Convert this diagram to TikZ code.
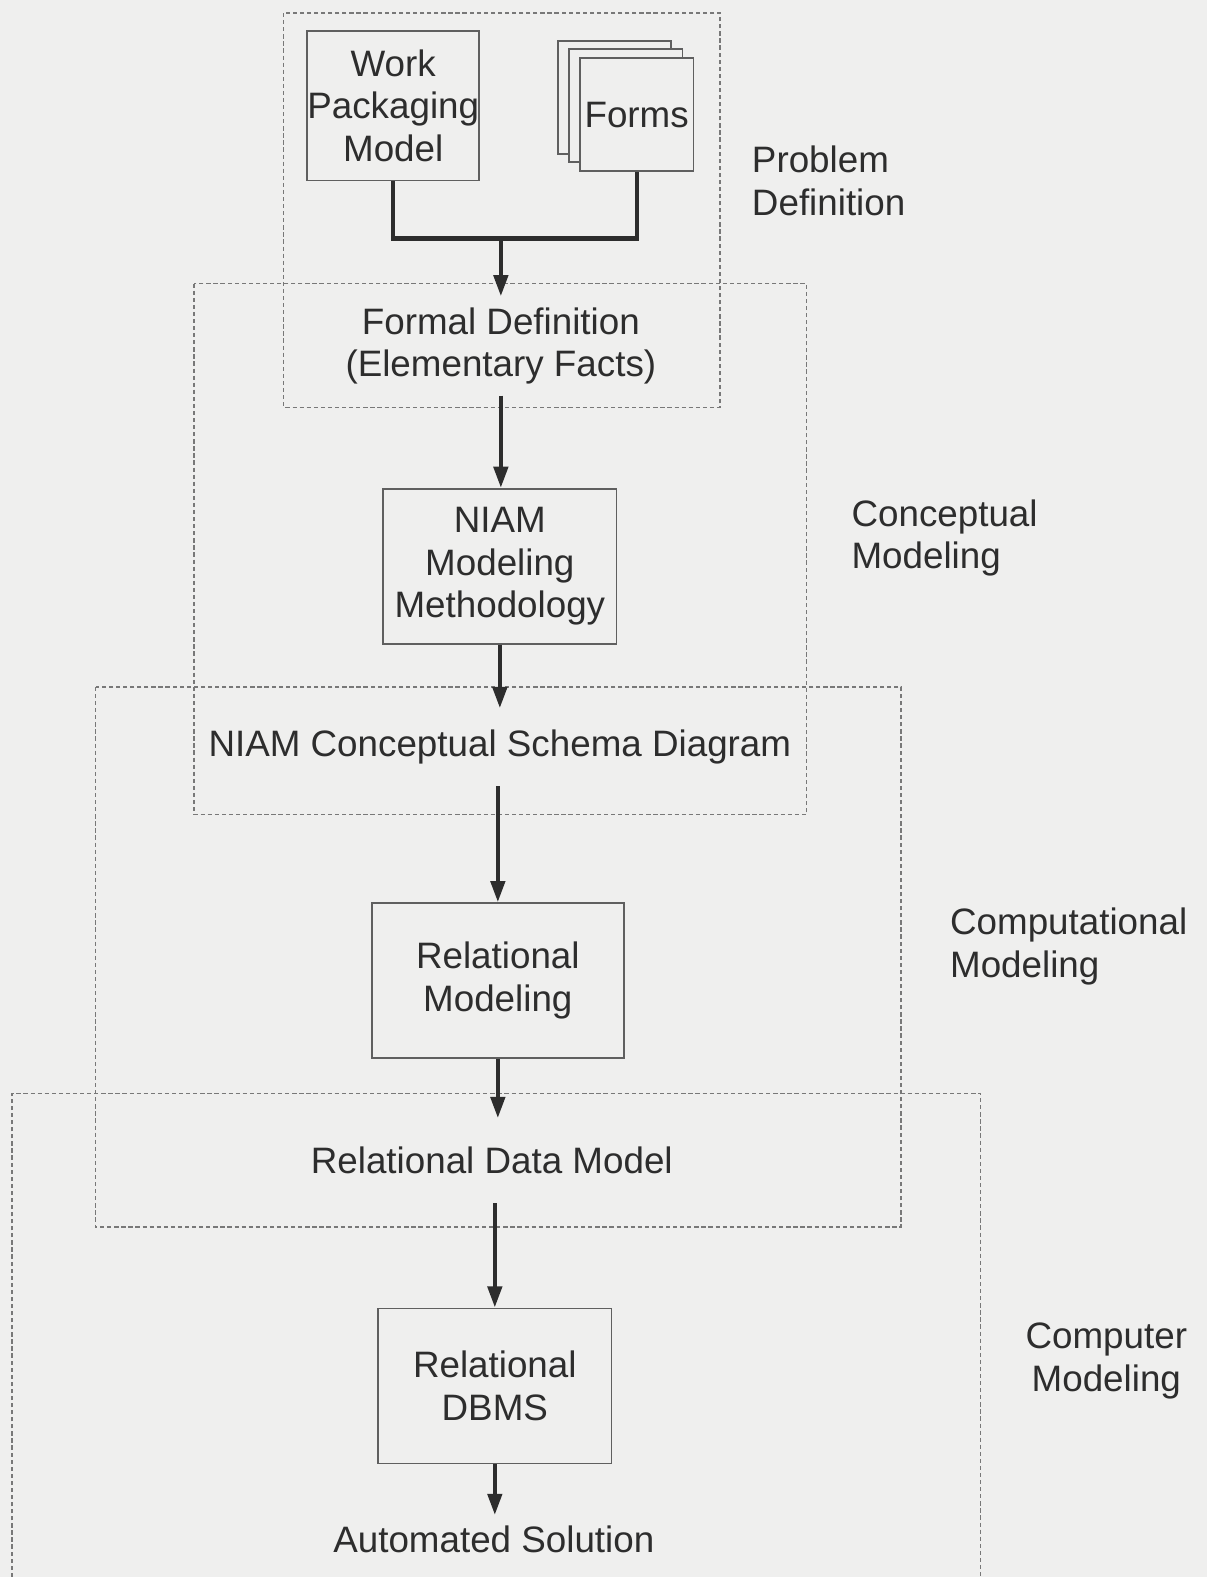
\documentclass[tikz,border=0pt]{standalone}
\usepackage{fontspec}
\setmainfont{Liberation Sans}
\usetikzlibrary{arrows.meta,calc,positioning}
\definecolor{paper}{RGB}{239,239,238}
\definecolor{ink}{RGB}{45,45,45}
\definecolor{rule}{RGB}{95,95,95}
\definecolor{dashrule}{RGB}{120,120,120}

\begin{document}
\begin{tikzpicture}[x=0.01cm,y=-0.01cm,
  font=\fontsize{10.4}{12}\selectfont,
  box/.style={draw=rule,line width=0.5pt,fill=paper,text=ink,align=center,inner sep=0pt},
  stage/.style={text=ink,align=center,inner xsep=0pt,inner ysep=3pt},
  side/.style={text=ink,align=left,anchor=west,inner sep=0pt},
  region/.style={draw=dashrule,line width=0.4pt,dash pattern=on 1.2pt off 0.8pt},
  link/.style={draw=ink,line width=1.2pt},
  flow/.style={link,-{Triangle[width=4pt,length=6pt]}}]

  \fill[paper] (0,0) rectangle (1200,1568);
  \useasboundingbox (0,0) rectangle (1200,1568);

  % dashed regions
  \draw[region] (282,13) rectangle (716,405);
  \draw[region] (193,282) rectangle (802,810);
  \draw[region] (95,683) rectangle (896,1220);
  \draw[region] (12,1568) |- (975,1087) -- (975,1568);

  % region labels
  \node[side] (probdef) at (747,180) {Problem\\Definition};
  \node[side] (concmod) at (846,535) {Conceptual\\Modeling};
  \node[side] (compmod) at (944,941) {Computational\\Modeling};
  \node[text=ink,align=center,inner sep=0pt] (cptrmod) at (1100,1353) {Computer\\Modeling};

  % sources
  \node[box,minimum width=1.71cm,minimum height=1.49cm] (wpm) at (391,105) {Work\\Packaging\\Model};
  \node[box,minimum width=1.13cm,minimum height=1.12cm] (sheetb) at (611,97) {};
  \node[box,minimum width=1.13cm,minimum height=1.12cm] (sheeta) at (622,105) {};
  \node[box,minimum width=1.13cm,minimum height=1.12cm] (forms) at (633,114) {Forms};
  \coordinate (join) at (498,237);

  % stages
  \node[stage,inner ysep=3pt] (formal) at (498,344) {Formal Definition\\(Elementary Facts)};
  \node[box,minimum width=2.32cm,minimum height=1.54cm] (niam) at (497,563) {NIAM\\Modeling\\Methodology};
  \node[stage,inner ysep=6pt] (schema) at (497,743) {NIAM Conceptual Schema Diagram};
  \node[box,minimum width=2.50cm,minimum height=1.54cm] (relmod) at (495,975) {Relational\\Modeling};
  \node[stage,inner ysep=8pt] (datamod) at (489,1154) {Relational Data Model};
  \node[box,minimum width=2.32cm,minimum height=1.54cm] (dbms) at (492,1378) {Relational\\DBMS};
  \node[stage,inner ysep=3pt] (solution) at (491,1531) {Automated Solution};

  % flow
  \draw[link] (wpm.south) |- (join) -| (forms.south);
  \draw[flow] (join) -- (join |- formal.north);
  \draw[flow] (formal.south) -- (formal.south |- niam.north);
  \draw[flow] (niam.south) -- (niam.south |- schema.north);
  \draw[flow] (schema.south -| relmod) -- (relmod.north);
  \draw[flow] (relmod.south) -- (relmod.south |- datamod.north);
  \draw[flow] (datamod.south -| dbms) -- (dbms.north);
  \draw[flow] (dbms.south) -- (dbms.south |- solution.north);
\end{tikzpicture}
\end{document}
